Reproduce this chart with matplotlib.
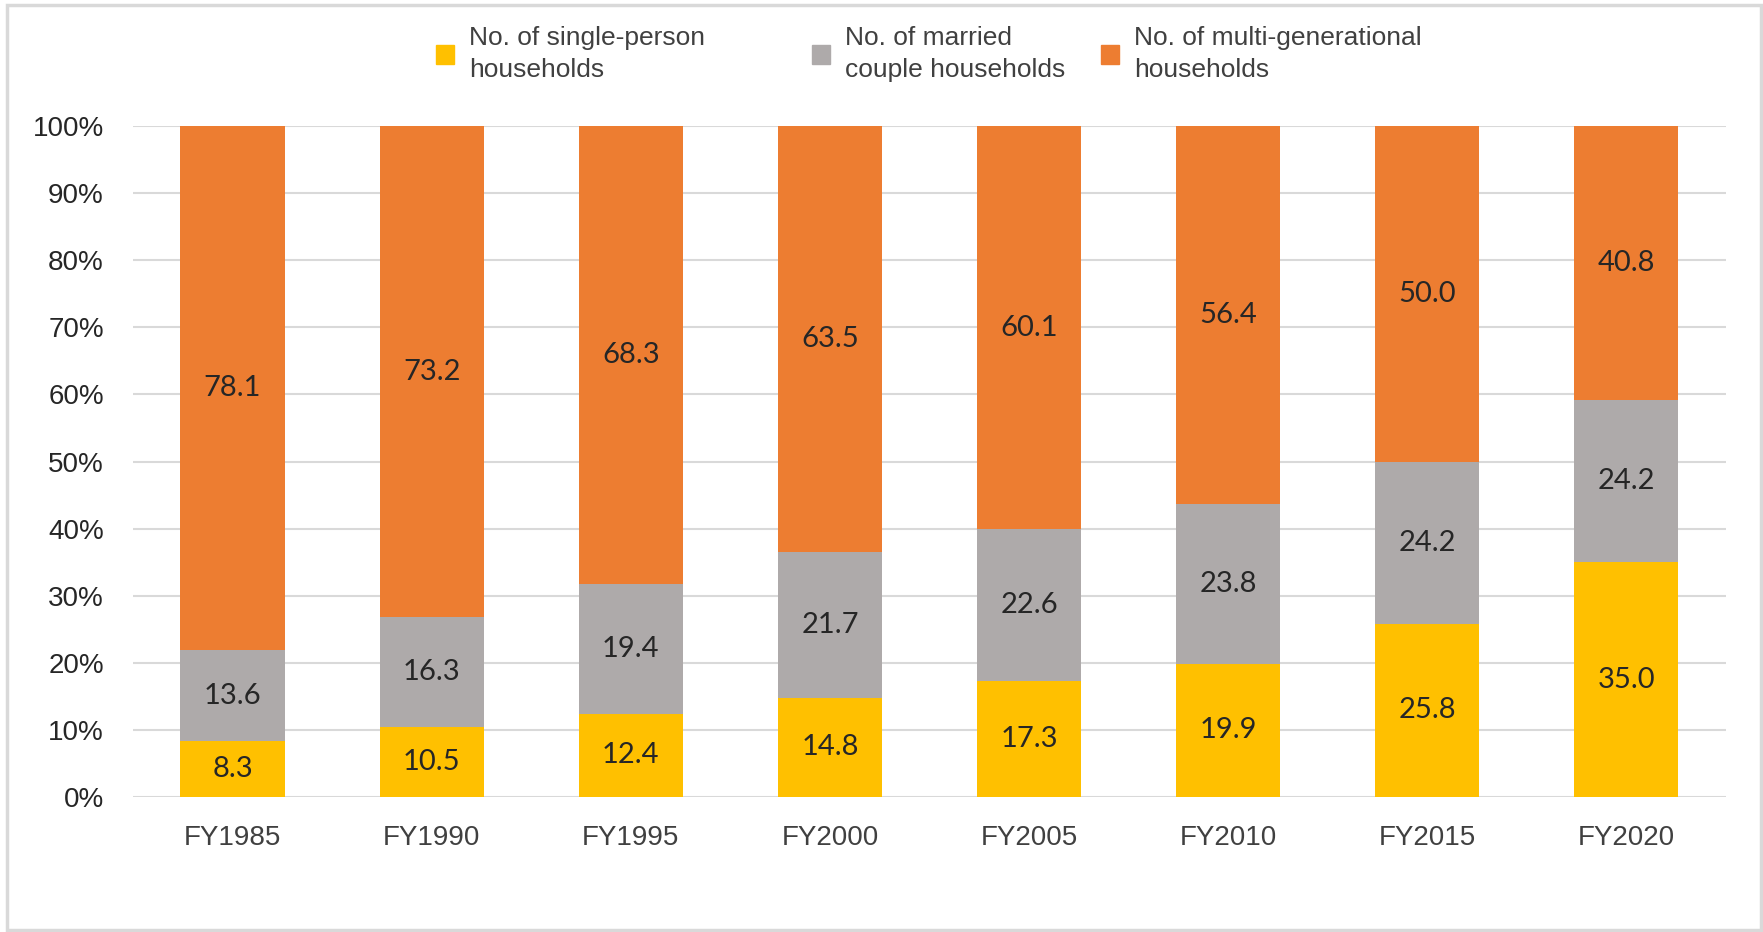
import numpy as np
import matplotlib.pyplot as plt
from matplotlib.patches import Patch, Rectangle

# Data (share of households, %)
years = ['FY1985', 'FY1990', 'FY1995', 'FY2000', 'FY2005', 'FY2010', 'FY2015', 'FY2020']
single = [8.3, 10.5, 12.4, 14.8, 17.3, 19.9, 25.8, 35.0]
married = [13.6, 16.3, 19.4, 21.7, 22.6, 23.8, 24.2, 24.2]
multi = [78.1, 73.2, 68.3, 63.5, 60.1, 56.4, 50.0, 40.8]

series_names = ['No. of single-person\nhouseholds',
                'No. of married\ncouple households',
                'No. of multi-generational\nhouseholds']
colors = ['#FFC000', '#AEAAAA', '#ED7D31']

fig = plt.figure(figsize=(17.63, 9.32), dpi=100)
ax = fig.add_axes([0.0754, 0.1448, 0.9036, 0.72])

x = np.arange(len(years))
w = 0.523
bottom = np.zeros(len(years))
for vals, c in zip([single, married, multi], colors):
    bars = ax.bar(x, vals, w, bottom=bottom, color=c, zorder=2)
    ax.bar_label(bars, labels=[f'{v:.1f}' for v in vals], label_type='center',
                 fontsize=21, family='Lato', color='#262626')
    bottom += np.array(vals)

ax.set_xlim(-0.5, len(years) - 0.5)
ax.set_ylim(0, 100)
ax.set_yticks(np.arange(0, 101, 10))
ax.set_yticklabels([f'{t}%' for t in range(0, 101, 10)])
ax.set_xticks(x)
ax.set_xticklabels(years)
ax.tick_params(axis='y', length=0, pad=21, labelsize=20, labelcolor='#262626')
ax.tick_params(axis='x', length=0, pad=20, labelsize=20, labelcolor='#404040')
for lab in ax.get_xticklabels() + ax.get_yticklabels():
    lab.set_family('Liberation Sans')

ax.yaxis.grid(True, color='#D9D9D9', linewidth=1.5, zorder=0)
ax.set_axisbelow(True)
for s in ax.spines.values():
    s.set_visible(False)

# legend: three separate entries placed like the original
legend_x = [436 / 1763, 812 / 1763, 1101 / 1763]
for name, c, lx in zip(series_names, colors, legend_x):
    leg = fig.legend(handles=[Patch(color=c, label=name)], loc='center left',
                     bbox_to_anchor=(lx, 1 - 54 / 932), frameon=False,
                     borderaxespad=0, borderpad=0, handlelength=0.7, handleheight=0.7,
                     handletextpad=0.55, labelspacing=0,
                     prop={'family': 'Liberation Sans', 'size': 19})
    for t in leg.get_texts():
        t.set_color('#404040')
        t.set_linespacing(1.4)

# light outer frame
fig.patches.append(Rectangle((0.004, 0.002), 0.995, 0.993, transform=fig.transFigure,
                             fill=False, edgecolor='#D9D9D9', linewidth=2.5))

fig.savefig('out.png', dpi=100, facecolor='white')
